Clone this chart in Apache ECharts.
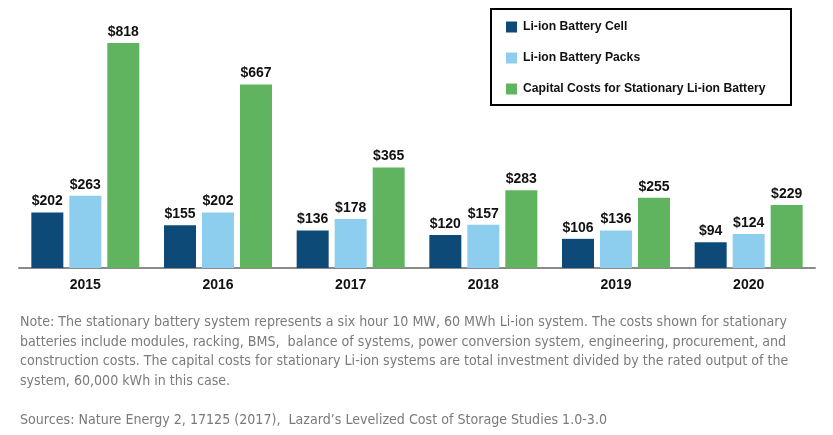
<!DOCTYPE html>
<html>
<head>
<meta charset="utf-8">
<script src="https://cdn.jsdelivr.net/npm/echarts@6/dist/echarts.min.js"></script>
<style>
html,body{margin:0;padding:0;background:#fff;}
#c{width:833px;height:435px;}
</style>
</head>
<body>
<div id="c"></div>
<script>
const years = ['2015', '2016', '2017', '2018', '2019', '2020'];
const cellCost = [202, 155, 136, 120, 106, 94];
const packCost = [263, 202, 178, 157, 136, 124];
const stationaryCost = [818, 667, 365, 283, 255, 229];
const seriesNames = ['Li-ion Battery Cell', 'Li-ion Battery Packs', 'Capital Costs for Stationary Li-ion Battery'];
const noteLines = [
  'Note: The stationary battery system represents a six hour 10 MW, 60 MWh Li-ion system. The costs shown for stationary',
  'batteries include modules, racking, BMS,  balance of systems, power conversion system, engineering, procurement, and',
  'construction costs. The capital costs for stationary Li-ion systems are total investment divided by the rated output of the',
  'system, 60,000 kWh in this case.'
];
const sourceLine = 'Sources: Nature Energy 2, 17125 (2017),  Lazard\u2019s Levelized Cost of Storage Studies 1.0-3.0';

const colors = ['#0e4a78', '#8dcdee', '#60b45f'];
const valueFont = 'Liberation Sans, Arial, sans-serif';
const noteFont = '"DejaVu Sans Condensed", "Liberation Sans Narrow", sans-serif';

// choose note font size so the first line spans ~770px like the reference
const mctx = document.createElement('canvas').getContext('2d');
mctx.font = '13px ' + noteFont;
const w13 = mctx.measureText(noteLines[0]).width;
const noteSize = Math.round(13 * 770 / w13 * 10) / 10;

const chart = echarts.init(document.getElementById('c'), null, {renderer: 'canvas'});

function mkSeries(name, data, color) {
  return {
    name: name,
    type: 'bar',
    data: data,
    barWidth: 32,
    barGap: '18.75%',
    itemStyle: {color: color},
    label: {
      show: true,
      position: 'top',
      distance: 4,
      formatter: p => '$' + p.value,
      color: '#111',
      fontWeight: 'bold',
      fontSize: 14,
      fontFamily: valueFont
    }
  };
}

chart.setOption({
  animation: false,
  backgroundColor: '#fff',
  grid: {left: 19, right: 18, top: 43, bottom: 167, containLabel: false},
  xAxis: {
    type: 'category',
    data: years,
    axisLine: {lineStyle: {color: '#8a8a8a', width: 2}},
    axisTick: {show: false},
    axisLabel: {
      color: '#111', fontWeight: 'bold', fontSize: 14, fontFamily: valueFont, margin: 10
    }
  },
  yAxis: {
    type: 'value', min: 0, max: 818, show: false, splitLine: {show: false}
  },
  legend: {
    orient: 'vertical',
    left: 506,
    top: 21,
    padding: 0,
    itemWidth: 11,
    itemHeight: 11,
    itemGap: 19,
    icon: 'rect',
    textStyle: {color: '#111', fontWeight: 'bold', fontSize: 12.2, fontFamily: valueFont, padding: [0, 0, 0, 1]},
    data: seriesNames
  },
  graphic: [
    {
      type: 'rect',
      shape: {x: 491, y: 9, width: 300, height: 96},
      style: {fill: 'none', stroke: '#000', lineWidth: 2},
      silent: true
    },
    {
      type: 'text',
      left: 20,
      top: 313,
      style: {
        text: noteLines.join('\n'),
        fill: '#7a7a7a',
        font: noteSize + 'px ' + noteFont,
        lineHeight: 19.5
      }
    },
    {
      type: 'text',
      left: 20,
      top: 411,
      style: {
        text: sourceLine,
        fill: '#7a7a7a',
        font: noteSize + 'px ' + noteFont,
        lineHeight: 19.5
      }
    }
  ],
  series: [
    mkSeries(seriesNames[0], cellCost, colors[0]),
    mkSeries(seriesNames[1], packCost, colors[1]),
    mkSeries(seriesNames[2], stationaryCost, colors[2])
  ]
});
</script>
</body>
</html>
